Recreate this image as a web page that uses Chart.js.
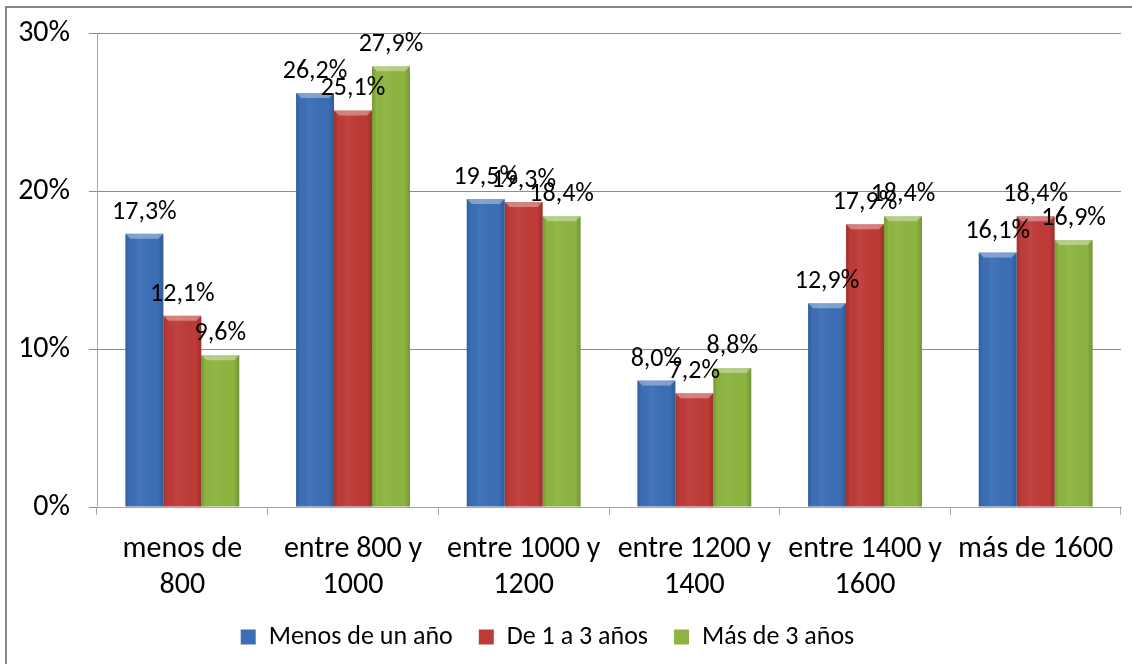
<!DOCTYPE html>
<html>
<head>
<meta charset="utf-8">
<script src="https://cdn.jsdelivr.net/npm/chart.js@4.4.1/dist/chart.umd.min.js"></script>
<style>
  html, body { margin: 0; padding: 0; background: #ffffff; }
  #wrap { position: relative; width: 1132px; height: 664px; }
</style>
</head>
<body>
<div id="wrap"><canvas id="c" width="1132" height="664"></canvas></div>
<script>
const categories = [['menos de', '800'], ['entre 800 y', '1000'], ['entre 1000 y', '1200'], ['entre 1200 y', '1400'], ['entre 1400 y', '1600'], 'más de 1600'];
const seriesNames = ['Menos de un año', 'De 1 a 3 años', 'Más de 3 años'];
const menosDeUnAno = [17.3, 26.2, 19.5, 8.0, 12.9, 16.1];
const de1a3Anos = [12.1, 25.1, 19.3, 7.2, 17.9, 18.4];
const masDe3Anos = [9.6, 27.9, 18.4, 8.8, 18.4, 16.9];
const yTickValues = [0, 10, 20, 30];

const FONT = "Carlito, Calibri, Lato, 'Open Sans', sans-serif";
const colors = ['#3b6eb5', '#be3b37', '#8db440'];

const PLOT_BOTTOM = 507;
const PAD_BOTTOM = 4;
const LEGEND_SHIFT = -13;

const frame = {
  id: 'frame',
  beforeDraw(chart) {
    const ctx = chart.ctx;
    ctx.save();
    ctx.fillStyle = '#ffffff';
    ctx.fillRect(0, 0, chart.width, chart.height);
    ctx.strokeStyle = '#878787';
    ctx.lineWidth = 2;
    ctx.strokeRect(6, 7, chart.width + 20, chart.height + 20);
    ctx.restore();
  }
};

const legendShift = {
  id: 'legendShift',
  afterLayout(chart) {
    const lg = chart.legend;
    if (lg) {
      lg.left += LEGEND_SHIFT;
      lg.right += LEGEND_SHIFT;
    }
  }
};

const bevel = {
  id: 'bevel',
  afterDatasetsDraw(chart) {
    const ctx = chart.ctx;
    ctx.save();
    chart.data.datasets.forEach((ds, di) => {
      const meta = chart.getDatasetMeta(di);
      meta.data.forEach((bar) => {
        const w = bar.width;
        const l = bar.x - w / 2, r = bar.x + w / 2;
        const t = bar.y, b = bar.base;
        const h = b - t;
        const g = ctx.createLinearGradient(l, 0, r, 0);
        g.addColorStop(0, 'rgba(0,0,0,0.15)');
        g.addColorStop(0.12, 'rgba(0,0,0,0.0)');
        g.addColorStop(0.35, 'rgba(255,255,255,0.05)');
        g.addColorStop(0.85, 'rgba(0,0,0,0.0)');
        g.addColorStop(1, 'rgba(0,0,0,0.18)');
        ctx.fillStyle = g;
        ctx.fillRect(l, t, w, h);
        const bv = Math.min(5, h / 2);
        ctx.beginPath();
        ctx.moveTo(l, t);
        ctx.lineTo(r, t);
        ctx.lineTo(r - bv, t + bv);
        ctx.lineTo(l + bv, t + bv);
        ctx.closePath();
        ctx.fillStyle = 'rgba(255,255,255,0.35)';
        ctx.fill();
      });
    });
    ctx.restore();
  }
};

const valueLabels = {
  id: 'valueLabels',
  afterDatasetsDraw(chart) {
    const ctx = chart.ctx;
    ctx.save();
    ctx.font = "26px " + FONT;
    ctx.fillStyle = '#000000';
    ctx.textAlign = 'center';
    ctx.textBaseline = 'alphabetic';
    chart.data.datasets.forEach((ds, di) => {
      const meta = chart.getDatasetMeta(di);
      meta.data.forEach((bar, i) => {
        const txt = ds.data[i].toFixed(1).replace('.', ',') + '%';
        ctx.fillText(txt, bar.x, bar.y - 15);
      });
    });
    ctx.restore();
  }
};

const allSeries = [menosDeUnAno, de1a3Anos, masDe3Anos];

new Chart(document.getElementById('c'), {
  type: 'bar',
  data: {
    labels: categories,
    datasets: allSeries.map((d, i) => ({
      label: seriesNames[i],
      data: d,
      backgroundColor: colors[i],
      borderWidth: 0,
      categoryPercentage: 0.667,
      barPercentage: 1.0
    }))
  },
  options: {
    responsive: false,
    animation: false,
    devicePixelRatio: 1,
    layout: { padding: { left: 0, right: 11, top: 33, bottom: PAD_BOTTOM } },
    plugins: {
      tooltip: { enabled: false },
      legend: {
        position: 'bottom',
        labels: {
          font: { family: FONT, size: 26 },
          color: '#000000',
          boxWidth: 15,
          boxHeight: 15,
          padding: 26
        }
      }
    },
    scales: {
      x: {
        offset: true,
        grid: {
          display: true,
          drawOnChartArea: false,
          drawTicks: true,
          tickLength: 8,
          color: '#a6a6a6',
          offset: true
        },
        border: { display: true, color: '#a6a6a6', width: 1 },
        ticks: {
          font: { family: FONT, size: 30, lineHeight: 1.2 },
          color: '#000000',
          maxRotation: 0,
          minRotation: 0,
          autoSkip: false,
          padding: 16
        },
        afterFit(scale) {
          const lg = scale.chart.legend;
          scale.height = scale.chart.height - PLOT_BOTTOM - PAD_BOTTOM - (lg ? lg.height : 0);
        }
      },
      y: {
        min: 0,
        max: 30,
        afterBuildTicks(scale) {
          scale.ticks = yTickValues.map(v => ({ value: v }));
        },
        grid: {
          color: '#8c8c8c',
          drawTicks: true,
          tickLength: 8
        },
        border: { display: true, color: '#a6a6a6', width: 1 },
        ticks: {
          font: { family: FONT, size: 30, lineHeight: 1.0 },
          color: '#000000',
          padding: 19,
          callback: v => v + '%'
        },
        afterFit(scale) {
          scale.width = 97;
          scale.paddingTop = 0;
          scale.paddingBottom = 0;
        }
      }
    }
  },
  plugins: [frame, legendShift, bevel, valueLabels]
});
</script>
</body>
</html>
